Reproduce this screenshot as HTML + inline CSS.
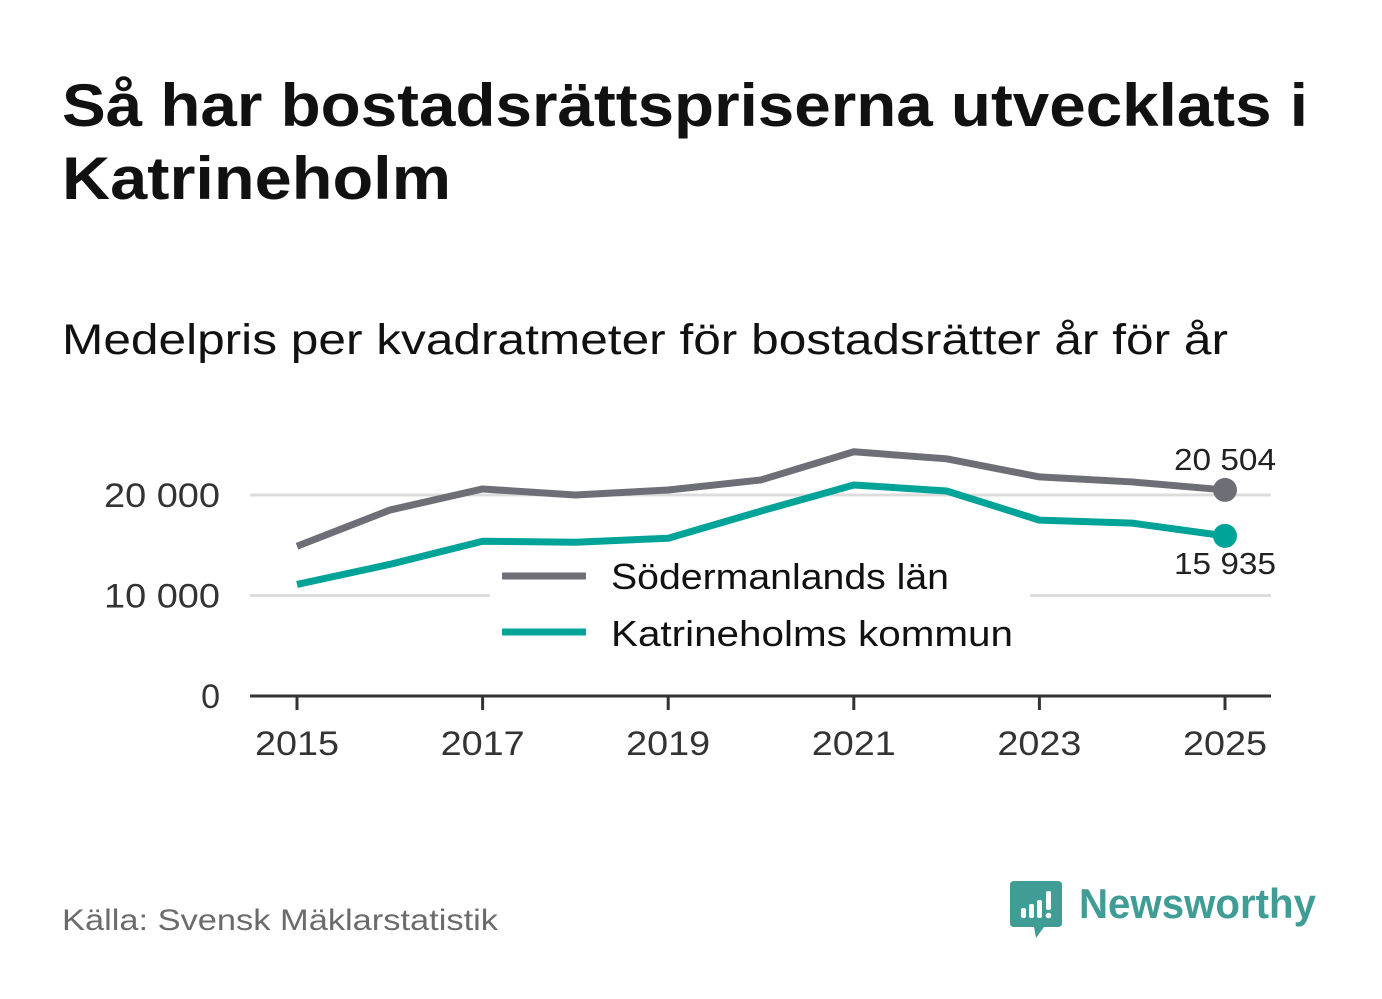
<!DOCTYPE html>
<html><head><meta charset="utf-8"><style>
body{margin:0;width:1382px;height:999px;background:#fff;overflow:hidden;font-family:"Liberation Sans",sans-serif;}
svg{position:absolute;left:0;top:0}
</style></head><body>
<svg width="1382" height="999">
<text x="62" y="126" font-size="60" font-weight="bold" fill="#111" textLength="1246" lengthAdjust="spacingAndGlyphs">Så har bostadsrättspriserna utvecklats i</text>
<text x="62" y="199" font-size="60" font-weight="bold" fill="#111" textLength="389" lengthAdjust="spacingAndGlyphs">Katrineholm</text>
<text x="62" y="354" font-size="43" fill="#111" textLength="1166" lengthAdjust="spacingAndGlyphs">Medelpris per kvadratmeter för bostadsrätter år för år</text>
<g id="grid"></g>
<g id="marks"></g>
<text x="62" y="930" font-size="30" fill="#6b6b6b" textLength="436" lengthAdjust="spacingAndGlyphs">Källa: Svensk Mäklarstatistik</text>
<g>
<path d="M1014 881 h44 q4 0 4 4 v38 q0 4 -4 4 h-14 l-8 11 l-2 -11 h-20 q-4 0 -4 -4 v-38 q0 -4 4 -4z" fill="#3f9d96"/>
<rect x="1021" y="908" width="5" height="10" rx="2" fill="#fff"/>
<rect x="1029" y="904" width="5" height="14" rx="2" fill="#fff"/>
<rect x="1037" y="900" width="5" height="18" rx="2" fill="#fff"/>
<rect x="1046" y="891" width="5" height="19" rx="2" fill="#fff"/>
<circle cx="1048.5" cy="915.5" r="2.8" fill="#fff"/>
<text x="1079" y="918" font-size="42" font-weight="bold" fill="#3f9d96" textLength="237" lengthAdjust="spacingAndGlyphs">Newsworthy</text>
</g>
</svg>
<script>
const years=[2015,2016,2017,2018,2019,2020,2021,2022,2023,2024,2025];
const sodermanland=[14900,18500,20600,20000,20500,21500,24300,23600,21800,21300,20504];
const katrineholm=[11100,13100,15400,15300,15700,18400,21000,20400,17500,17200,15935];
const yTicks=[0,10000,20000];
const yTickLabels=["0","10 000","20 000"];
const xTicks=[2015,2017,2019,2021,2023,2025];
const NS="http://www.w3.org/2000/svg";
const x=v=>297+(v-2015)*92.8;
const y=v=>696-v*0.01005;
function mk(t,a,p){const e=document.createElementNS(NS,t);for(const k in a)e.setAttribute(k,a[k]);p.appendChild(e);return e;}
const grid=document.getElementById('grid'),marks=document.getElementById('marks');
yTicks.forEach((t,i)=>{
  if(t>0){const l=mk('line',{x1:250,x2:1271,y1:y(t),y2:y(t),stroke:'#dcdcdc','stroke-width':3},grid);
  
  }
  const a={x:220,y:y(t)+12,'font-size':34,fill:'#333','text-anchor':'end'};
  if(t>0){a.textLength=116;a.lengthAdjust='spacingAndGlyphs';}
  const tx=mk('text',a,grid);tx.textContent=yTickLabels[i];
  
  
});
const ax=mk('line',{x1:250,x2:1271,y1:696,y2:696,stroke:'#333','stroke-width':3},grid);


xTicks.forEach(t=>{
  mk('line',{x1:x(t),x2:x(t),y1:696,y2:710,stroke:'#333','stroke-width':3},grid);
  const tx=mk('text',{x:x(t),y:755,'font-size':34,fill:'#333','text-anchor':'middle',textLength:84,lengthAdjust:'spacingAndGlyphs'},grid);tx.textContent=t;
  
  
});
function series(vals,col,name){
  const p=mk('polyline',{points:vals.map((v,i)=>x(years[i])+','+y(v)).join(' '),fill:'none',stroke:col,'stroke-width':7,'stroke-linejoin':'round'},marks);
  
  
  const n=vals.length-1;
  const c=mk('circle',{cx:x(years[n]),cy:y(vals[n]),r:12,fill:col},marks);
  
  
}
series(sodermanland,'#6e6e76','sodermanland');
series(katrineholm,'#00a398','katrineholm');
const fmt=v=>String(v).replace(/\B(?=(\d{3})+(?!\d))/g,' ');
let t1=mk('text',{x:x(2025),y:y(sodermanland[10])-20,'font-size':31,fill:'#222','text-anchor':'middle',textLength:102,lengthAdjust:'spacingAndGlyphs'},marks);t1.textContent=fmt(sodermanland[10]);


let t2=mk('text',{x:x(2025),y:y(katrineholm[10])+38,'font-size':31,fill:'#222','text-anchor':'middle',textLength:102,lengthAdjust:'spacingAndGlyphs'},marks);t2.textContent=fmt(katrineholm[10]);


const lg=mk('g',{},marks);


mk('rect',{x:490,y:552,width:540,height:105,fill:'#fff'},lg);
mk('line',{x1:502,x2:586,y1:576,y2:576,stroke:'#6e6e76','stroke-width':7},lg);
mk('line',{x1:502,x2:586,y1:632,y2:632,stroke:'#00a398','stroke-width':7},lg);
let l1=mk('text',{x:611,y:589,'font-size':36,fill:'#111',textLength:338,lengthAdjust:'spacingAndGlyphs'},lg);l1.textContent='Södermanlands län';


let l2=mk('text',{x:611,y:646,'font-size':36,fill:'#111',textLength:402,lengthAdjust:'spacingAndGlyphs'},lg);l2.textContent='Katrineholms kommun';


</script>
</body></html>
